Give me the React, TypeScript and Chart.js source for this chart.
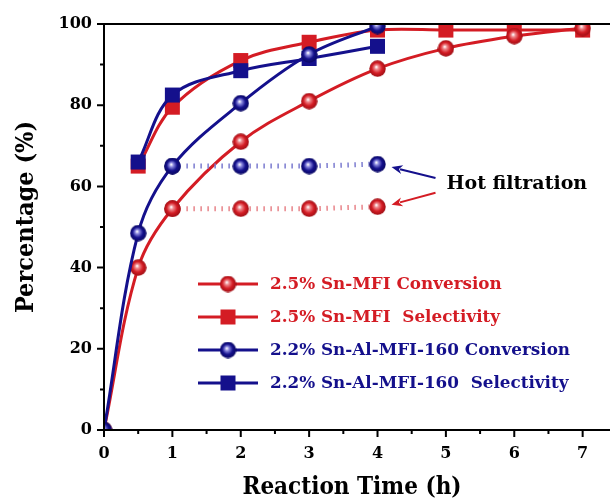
import React, { useEffect, useRef } from "react";
import { Chart, registerables } from "chart.js";

Chart.register(...registerables);

// ---- data ----
const timeConvRed = [0, 0.5, 1, 2, 3, 4, 5, 6, 7];
const convRed = [0, 40, 54.5, 71, 81, 89, 94, 97, 99];
const timeSelRed = [0.5, 1, 2, 3, 4, 5, 6, 7];
const selRed = [65, 79.5, 91, 95.5, 98.5, 98.5, 98.5, 98.5];
const timeConvBlue = [0, 0.5, 1, 2, 3, 4];
const convBlue = [0, 48.5, 65, 80.5, 92.5, 99.5];
const timeSelBlue = [0.5, 1, 2, 3, 4];
const selBlue = [66, 82.5, 88.5, 91.5, 94.5];
const timeHot = [1, 2, 3, 4];
const hotRed = [54.5, 54.5, 54.5, 55];
const hotBlue = [65, 65, 65, 65.5];
const xTicks = [0, 1, 2, 3, 4, 5, 6, 7];
const yTicks = [0, 20, 40, 60, 80, 100];
const legendLabels = [
  "2.5% Sn-MFI Conversion",
  "2.5% Sn-MFI  Selectivity",
  "2.2% Sn-Al-MFI-160 Conversion",
  "2.2% Sn-Al-MFI-160  Selectivity",
];
const annotationText = "Hot filtration";
const xTitle = "Reaction Time (h)";
const yTitle = "Percentage (%)";

const RED = "#d41c24";
const BLUE = "#14108c";
const RED_DOT = "#e8848a";
const BLUE_DOT = "#7c7cd0";
const SERIF = "'DejaVu Serif', serif";
const TITLE_FONT = "'DejaVu Serif Condensed', 'DejaVu Serif', serif";

function sphere(base: string, dark: string, light: string, d: number) {
  const c = document.createElement("canvas");
  c.width = d;
  c.height = d;
  const g = c.getContext("2d")!;
  const r = d / 2;
  const grad = g.createRadialGradient(r * 0.85, r * 0.8, 0.3, r, r, r);
  grad.addColorStop(0, "#ffffff");
  grad.addColorStop(0.22, light);
  grad.addColorStop(0.6, base);
  grad.addColorStop(1, dark);
  g.fillStyle = grad;
  g.beginPath();
  g.arc(r, r, r - 0.3, 0, Math.PI * 2);
  g.fill();
  return c;
}

function pts(xs: number[], ys: number[]) {
  return xs.map((x, i) => ({ x, y: ys[i] }));
}

export default function App() {
  const ref = useRef<HTMLCanvasElement | null>(null);

  useEffect(() => {
    if (!ref.current) return;
    const redSphere = sphere(RED, "#9a0e14", "#ee8a8e", 17);
    const blueSphere = sphere(BLUE, "#0a0860", "#8c8ae0", 17);

    const axesPlugin = {
      id: "axesPlugin",
      afterDatasetsDraw(chart: any) {
        const { ctx, chartArea, scales } = chart;
        const xs = scales.x;
        const ys = scales.y;
        const { left, right, top, bottom } = chartArea;
        ctx.save();
        ctx.strokeStyle = "#000";
        ctx.lineWidth = 2;
        ctx.beginPath();
        ctx.moveTo(left, top);
        ctx.lineTo(left, bottom + 1);
        ctx.moveTo(left - 1, bottom);
        ctx.lineTo(right, bottom);
        ctx.moveTo(left, top);
        ctx.lineTo(right, top);
        ctx.stroke();
        // y ticks
        ctx.beginPath();
        for (let v = 0; v <= 100; v += 10) {
          const y = ys.getPixelForValue(v);
          const len = v % 20 === 0 ? 7 : 4;
          ctx.moveTo(left, y);
          ctx.lineTo(left - len, y);
        }
        // x ticks
        for (let v = 0; v <= 7; v += 0.5) {
          const x = xs.getPixelForValue(v);
          const len = v % 1 === 0 ? 7 : 4;
          ctx.moveTo(x, bottom);
          ctx.lineTo(x, bottom + len);
        }
        ctx.stroke();

        // tick labels
        ctx.fillStyle = "#000";
        ctx.font = `bold 16px ${SERIF}`;
        ctx.textAlign = "right";
        ctx.textBaseline = "middle";
        yTicks.forEach((v) => {
          ctx.fillText(String(v), left - 12, ys.getPixelForValue(v));
        });
        ctx.textAlign = "center";
        ctx.textBaseline = "alphabetic";
        xTicks.forEach((v) => {
          ctx.fillText(String(v), xs.getPixelForValue(v), bottom + 28);
        });

        // axis titles
        ctx.font = `bold 24px ${TITLE_FONT}`;
        ctx.textAlign = "center";
        ctx.textBaseline = "alphabetic";
        ctx.fillText(xTitle, left + 248, bottom + 64);
        ctx.save();
        ctx.translate(left - 71, (top + bottom) / 2 - 10);
        ctx.rotate(-Math.PI / 2);
        ctx.font = `bold 25px ${TITLE_FONT}`;
        ctx.fillText(yTitle, 0, 0);
        ctx.restore();

        // legend
        const colors = [RED, RED, BLUE, BLUE];
        const shapes = ["sphere", "rect", "sphere", "rect"];
        const lx0 = left + 94;
        const lx1 = left + 154;
        const mx = left + 124;
        const tx = left + 166;
        legendLabels.forEach((label, i) => {
          const y = top + 260 + 33 * i;
          ctx.strokeStyle = colors[i];
          ctx.lineWidth = 3;
          ctx.beginPath();
          ctx.moveTo(lx0, y);
          ctx.lineTo(lx1, y);
          ctx.stroke();
          if (shapes[i] === "sphere") {
            const img = colors[i] === RED ? redSphere : blueSphere;
            ctx.drawImage(img, mx - 8.5, y - 8.5, 17, 17);
          } else {
            ctx.fillStyle = colors[i];
            ctx.fillRect(mx - 7.5, y - 7.5, 15, 15);
          }
          ctx.fillStyle = colors[i];
          ctx.font = `bold 16.8px ${SERIF}`;
          ctx.textBaseline = "middle";
          ctx.textAlign = "left";
          ctx.fillText(label, tx, y + 1);
        });

        // Hot filtration annotation
        const bx = xs.getPixelForValue(timeHot[timeHot.length - 1]);
        const byB = ys.getPixelForValue(hotBlue[hotBlue.length - 1]);
        const byR = ys.getPixelForValue(hotRed[hotRed.length - 1]);
        const tipX = bx + 14;
        const tailX = bx + 58;
        const arrow = (x0: number, y0: number, x1: number, y1: number, col: string) => {
          const ang = Math.atan2(y1 - y0, x1 - x0);
          const hl = 11;
          const hw = 4.5;
          ctx.strokeStyle = col;
          ctx.fillStyle = col;
          ctx.lineWidth = 2;
          ctx.beginPath();
          ctx.moveTo(x0, y0);
          ctx.lineTo(x1 - Math.cos(ang) * hl * 0.8, y1 - Math.sin(ang) * hl * 0.8);
          ctx.stroke();
          ctx.beginPath();
          ctx.moveTo(x1, y1);
          ctx.lineTo(
            x1 - Math.cos(ang) * hl - Math.sin(ang) * hw,
            y1 - Math.sin(ang) * hl + Math.cos(ang) * hw
          );
          ctx.lineTo(x1 - Math.cos(ang) * hl * 0.7, y1 - Math.sin(ang) * hl * 0.7);
          ctx.lineTo(
            x1 - Math.cos(ang) * hl + Math.sin(ang) * hw,
            y1 - Math.sin(ang) * hl - Math.cos(ang) * hw
          );
          ctx.closePath();
          ctx.fill();
        };
        arrow(tailX, byB + 14, tipX, byB + 3, BLUE);
        arrow(tailX, byR - 14, tipX, byR - 2, RED);
        ctx.fillStyle = "#000";
        ctx.font = `bold 19px ${SERIF}`;
        ctx.textBaseline = "middle";
        ctx.textAlign = "left";
        ctx.fillText(annotationText, bx + 69, (byB + byR) / 2 - 1);
        ctx.restore();
      },
    };

    const main = (data: any, color: string, style: any, order: number, radius: number) => ({
      data,
      borderColor: color,
      backgroundColor: color,
      borderWidth: 3,
      pointStyle: style,
      pointRadius: radius,
      pointBackgroundColor: color,
      pointBorderWidth: 0,
      tension: 0.35,
      clip: 0,
      order,
    });
    const hot = (data: any, color: string, style: any, order: number) => ({
      data,
      borderColor: color,
      borderWidth: 5,
      borderDash: [1.5, 5.5],
      pointStyle: style,
      pointRadius: 8.5,
      tension: 0,
      clip: 0,
      order,
    });

    const chart = new Chart(ref.current, {
      type: "line",
      data: {
        datasets: [
          main(pts(timeConvBlue, convBlue), BLUE, blueSphere, 1, 8.5),
          main(pts(timeSelBlue, selBlue), BLUE, "rect", 2, 10.6),
          hot(pts(timeHot, hotBlue), BLUE_DOT, blueSphere, 0),
          main(pts(timeConvRed, convRed), RED, redSphere, 4, 8.5),
          main(pts(timeSelRed, selRed), RED, "rect", 5, 10.6),
          hot(pts(timeHot, hotRed), RED_DOT, redSphere, 3),
        ] as any,
      },
      options: {
        animation: false,
        responsive: false,
        devicePixelRatio: 1,
        layout: { autoPadding: false, padding: { left: 104, right: 0, top: 24, bottom: 68 } },
        plugins: { legend: { display: false }, tooltip: { enabled: false } },
        scales: {
          x: { type: "linear", min: 0, max: 7.4, display: false },
          y: { type: "linear", min: 0, max: 100, display: false },
        },
      } as any,
      plugins: [axesPlugin],
    });
    return () => chart.destroy();
  }, []);

  return (
    <div style={{ position: "absolute", left: 0, top: 0, width: 610, height: 498, background: "#fff" }}>
      <canvas ref={ref} width={610} height={498} style={{ display: "block" }} />
    </div>
  );
}
